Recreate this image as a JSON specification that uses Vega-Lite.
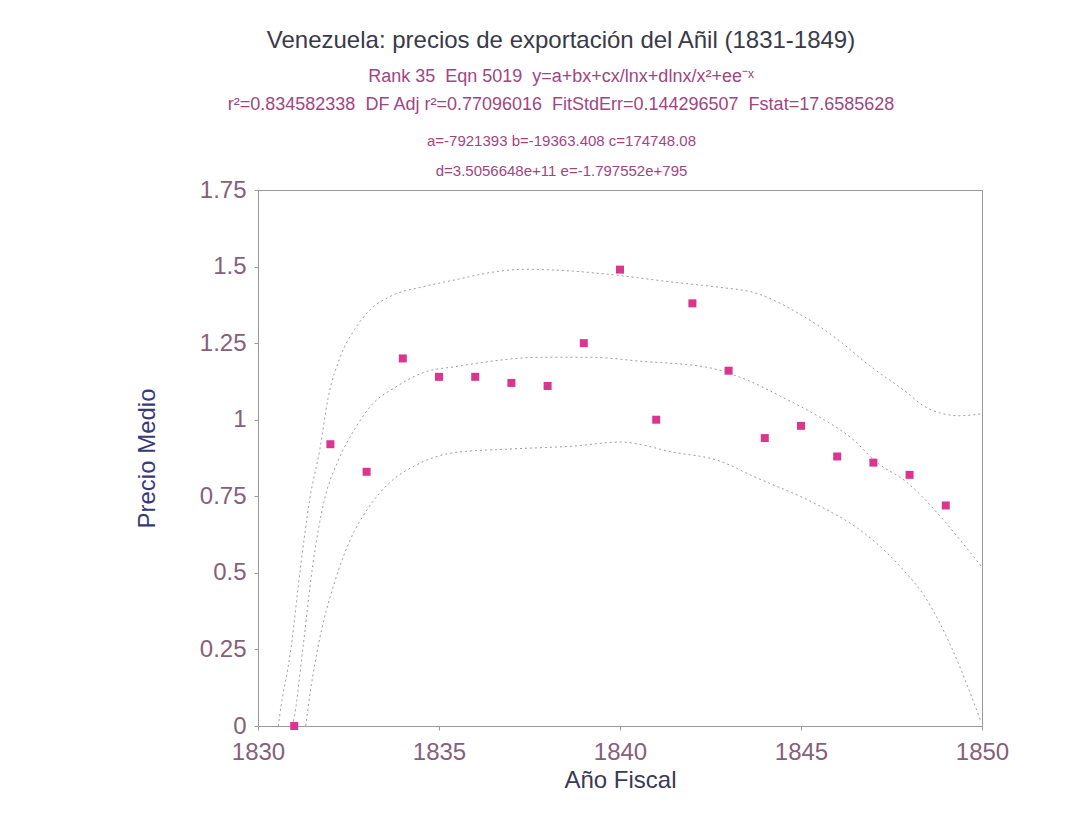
{
  "$schema": "https://vega.github.io/schema/vega-lite/v6.json",
  "autosize": {"type": "none"},
  "padding": {"left": 258, "top": 190, "right": 95, "bottom": 91},
  "width": 724,
  "height": 536,
  "background": "white",
  "config": {
    "font": "Liberation Sans",
    "view": {"stroke": "#9a9a9a", "strokeWidth": 1}
  },
  "title": {
    "text": "Venezuela: precios de exportación del Añil (1831-1849)",
    "subtitle": [
      "Rank 35\u00a0 Eqn 5019\u00a0 y=a+bx+cx/lnx+dlnx/x²+ee⁻ˣ",
      "r²=0.834582338\u00a0 DF Adj r²=0.77096016\u00a0 FitStdErr=0.144296507\u00a0 Fstat=17.6585628"
    ],
    "anchor": "middle",
    "dx": -59,
    "offset": 19,
    "font": "Liberation Sans",
    "fontSize": 24,
    "fontWeight": "normal",
    "color": "#3a3a48",
    "subtitleFont": "Liberation Sans",
    "subtitleFontSize": 18,
    "subtitleColor": "#a2457f",
    "subtitleLineHeight": 28,
    "subtitlePadding": 15
  },
  "datasets": {
    "puntos": [
      {"anio": 1831, "precio": 0.0},
      {"anio": 1832, "precio": 0.92},
      {"anio": 1833, "precio": 0.83},
      {"anio": 1834, "precio": 1.2},
      {"anio": 1835, "precio": 1.14},
      {"anio": 1836, "precio": 1.14},
      {"anio": 1837, "precio": 1.12},
      {"anio": 1838, "precio": 1.11},
      {"anio": 1839, "precio": 1.25},
      {"anio": 1840, "precio": 1.49},
      {"anio": 1841, "precio": 1.0},
      {"anio": 1842, "precio": 1.38},
      {"anio": 1843, "precio": 1.16},
      {"anio": 1844, "precio": 0.94},
      {"anio": 1845, "precio": 0.98},
      {"anio": 1846, "precio": 0.88},
      {"anio": 1847, "precio": 0.86},
      {"anio": 1848, "precio": 0.82},
      {"anio": 1849, "precio": 0.72}
    ],
    "curvas": [
      {"serie": "sup", "anio": 1830.56, "valor": 0.0},
      {"serie": "sup", "anio": 1830.6, "valor": 0.035},
      {"serie": "sup", "anio": 1830.91, "valor": 0.253},
      {"serie": "sup", "anio": 1831.18, "valor": 0.523},
      {"serie": "sup", "anio": 1831.43, "valor": 0.741},
      {"serie": "sup", "anio": 1831.71, "valor": 0.904},
      {"serie": "sup", "anio": 1831.93, "valor": 1.067},
      {"serie": "sup", "anio": 1832.28, "valor": 1.207},
      {"serie": "sup", "anio": 1832.67, "valor": 1.295},
      {"serie": "sup", "anio": 1833.11, "valor": 1.36},
      {"serie": "sup", "anio": 1833.66, "valor": 1.403},
      {"serie": "sup", "anio": 1834.59, "valor": 1.435},
      {"serie": "sup", "anio": 1835.5, "valor": 1.458},
      {"serie": "sup", "anio": 1836.44, "valor": 1.481},
      {"serie": "sup", "anio": 1837.35, "valor": 1.491},
      {"serie": "sup", "anio": 1838.72, "valor": 1.485},
      {"serie": "sup", "anio": 1839.66, "valor": 1.475},
      {"serie": "sup", "anio": 1841.47, "valor": 1.449},
      {"serie": "sup", "anio": 1842.77, "valor": 1.432},
      {"serie": "sup", "anio": 1843.67, "valor": 1.416},
      {"serie": "sup", "anio": 1845.05, "valor": 1.339},
      {"serie": "sup", "anio": 1845.98, "valor": 1.265},
      {"serie": "sup", "anio": 1846.89, "valor": 1.177},
      {"serie": "sup", "anio": 1847.8, "valor": 1.1},
      {"serie": "sup", "anio": 1848.54, "valor": 1.035},
      {"serie": "sup", "anio": 1849.37, "valor": 1.013},
      {"serie": "sup", "anio": 1849.97, "valor": 1.019},
      {"serie": "ajuste", "anio": 1830.95, "valor": 0.0},
      {"serie": "ajuste", "anio": 1831.01, "valor": 0.035},
      {"serie": "ajuste", "anio": 1831.24, "valor": 0.253},
      {"serie": "ajuste", "anio": 1831.51, "valor": 0.523},
      {"serie": "ajuste", "anio": 1831.84, "valor": 0.741},
      {"serie": "ajuste", "anio": 1832.2, "valor": 0.862},
      {"serie": "ajuste", "anio": 1832.67, "valor": 0.969},
      {"serie": "ajuste", "anio": 1833.11, "valor": 1.044},
      {"serie": "ajuste", "anio": 1833.85, "valor": 1.11},
      {"serie": "ajuste", "anio": 1834.59, "valor": 1.155},
      {"serie": "ajuste", "anio": 1835.5, "valor": 1.174},
      {"serie": "ajuste", "anio": 1836.44, "valor": 1.191},
      {"serie": "ajuste", "anio": 1837.81, "valor": 1.204},
      {"serie": "ajuste", "anio": 1839.19, "valor": 1.204},
      {"serie": "ajuste", "anio": 1840.56, "valor": 1.191},
      {"serie": "ajuste", "anio": 1842.41, "valor": 1.171},
      {"serie": "ajuste", "anio": 1843.31, "valor": 1.139},
      {"serie": "ajuste", "anio": 1844.61, "valor": 1.066},
      {"serie": "ajuste", "anio": 1845.52, "valor": 1.008},
      {"serie": "ajuste", "anio": 1846.42, "valor": 0.937},
      {"serie": "ajuste", "anio": 1847.08, "valor": 0.862},
      {"serie": "ajuste", "anio": 1847.91, "valor": 0.797},
      {"serie": "ajuste", "anio": 1848.74, "valor": 0.699},
      {"serie": "ajuste", "anio": 1849.37, "valor": 0.611},
      {"serie": "ajuste", "anio": 1849.97, "valor": 0.523},
      {"serie": "inf", "anio": 1831.32, "valor": 0.0},
      {"serie": "inf", "anio": 1831.38, "valor": 0.057},
      {"serie": "inf", "anio": 1831.65, "valor": 0.253},
      {"serie": "inf", "anio": 1832.12, "valor": 0.471},
      {"serie": "inf", "anio": 1832.56, "valor": 0.611},
      {"serie": "inf", "anio": 1833.03, "valor": 0.709},
      {"serie": "inf", "anio": 1833.66, "valor": 0.797},
      {"serie": "inf", "anio": 1834.32, "valor": 0.849},
      {"serie": "inf", "anio": 1835.5, "valor": 0.894},
      {"serie": "inf", "anio": 1836.91, "valor": 0.904},
      {"serie": "inf", "anio": 1838.72, "valor": 0.914},
      {"serie": "inf", "anio": 1840.01, "valor": 0.927},
      {"serie": "inf", "anio": 1841.47, "valor": 0.894},
      {"serie": "inf", "anio": 1842.76, "valor": 0.865},
      {"serie": "inf", "anio": 1843.67, "valor": 0.816},
      {"serie": "inf", "anio": 1845.52, "valor": 0.718},
      {"serie": "inf", "anio": 1846.7, "valor": 0.634},
      {"serie": "inf", "anio": 1847.8, "valor": 0.513},
      {"serie": "inf", "anio": 1848.46, "valor": 0.415},
      {"serie": "inf", "anio": 1849.17, "valor": 0.253},
      {"serie": "inf", "anio": 1849.97, "valor": 0.015}
    ]
  },
  "encoding": {
    "x": {
      "type": "quantitative",
      "scale": {"domain": [1830, 1850], "nice": false, "zero": false},
      "axis": {
        "title": "Año Fiscal",
        "orient": "bottom",
        "values": [1830, 1835, 1840, 1845, 1850],
        "format": "d",
        "labelFlush": false,
        "grid": false,
        "domain": false,
        "ticks": true,
        "tickSize": 4,
        "tickColor": "#9a9a9a",
        "labelPadding": 10,
        "labelFont": "Liberation Sans",
        "labelFontSize": 24,
        "labelColor": "#86607a",
        "titleFont": "Liberation Sans",
        "titleFontSize": 24,
        "titleFontWeight": "normal",
        "titleColor": "#3a3a55",
        "titlePadding": 4
      }
    },
    "y": {
      "type": "quantitative",
      "scale": {"domain": [0, 1.75], "nice": false, "zero": true},
      "axis": {
        "title": "Precio Medio",
        "values": [0, 0.25, 0.5, 0.75, 1, 1.25, 1.5, 1.75],
        "format": ".2~f",
        "labelFlush": false,
        "grid": false,
        "domain": false,
        "ticks": true,
        "tickSize": 4,
        "tickColor": "#9a9a9a",
        "labelPadding": 8,
        "labelFont": "Liberation Sans",
        "labelFontSize": 24,
        "labelColor": "#86607a",
        "titleFont": "Liberation Sans",
        "titleFontSize": 24,
        "titleFontWeight": "normal",
        "titleColor": "#38387a",
        "titlePadding": 40
      }
    }
  },
  "layer": [
    {
      "data": {"name": "curvas"},
      "mark": {"type": "line", "stroke": "#9c9c9c", "strokeWidth": 1, "strokeDash": [2, 3], "interpolate": "monotone"},
      "encoding": {
        "x": {"field": "anio", "type": "quantitative"},
        "y": {"field": "valor", "type": "quantitative"},
        "detail": {"field": "serie", "type": "nominal"}
      }
    },
    {
      "data": {"name": "puntos"},
      "mark": {"type": "point", "shape": "square", "filled": true, "size": 64, "color": "#dc3590", "opacity": 1},
      "encoding": {
        "x": {
          "field": "anio",
          "type": "quantitative",
          "axis": {
            "orient": "top",
            "labels": false,
            "ticks": false,
            "domain": false,
            "grid": false,
            "title": ["a=-7921393 b=-19363.408 c=174748.08", "d=3.5056648e+11 e=-1.797552e+795"],
            "titleFont": "Liberation Sans",
            "titleFontSize": 15,
            "titleFontWeight": "normal",
            "titleColor": "#a2457f",
            "titleLineHeight": 30,
            "titleAngle": 0,
            "titleAlign": "center",
            "titleBaseline": "bottom",
            "titleX": 303,
            "titleY": -42
          }
        },
        "y": {"field": "precio", "type": "quantitative"}
      }
    }
  ]
}
